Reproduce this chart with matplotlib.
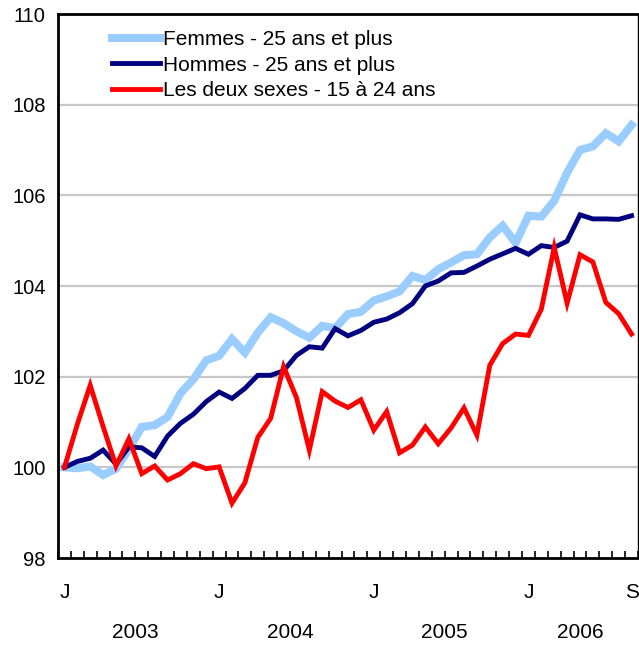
import numpy as np
import matplotlib
matplotlib.use("Agg")
import matplotlib.pyplot as plt
import matplotlib.transforms as mtransforms

plt.rcParams['font.family'] = ['Liberation Sans', 'DejaVu Sans']

# monthly index, Jan 2003 = 100, Jan 2003 .. Sep 2006
femmes = [100.0, 99.98, 100.02, 99.83, 99.97, 100.4, 100.89, 100.93, 101.11, 101.63,
          101.94, 102.36, 102.46, 102.83, 102.53, 102.97, 103.31, 103.18, 103.0, 102.86,
          103.12, 103.07, 103.38, 103.43, 103.68, 103.77, 103.88, 104.22, 104.13, 104.37,
          104.52, 104.68, 104.7, 105.07, 105.33, 104.95, 105.55, 105.53, 105.88, 106.5,
          107.0, 107.08, 107.37, 107.19, 107.55]
hommes = [100.0, 100.13, 100.2, 100.38, 100.07, 100.45, 100.43, 100.24, 100.69, 100.97,
          101.17, 101.45, 101.66, 101.52, 101.74, 102.03, 102.03, 102.13, 102.47, 102.66,
          102.63, 103.06, 102.9, 103.02, 103.2, 103.27, 103.41, 103.61, 104.0, 104.11,
          104.29, 104.3, 104.44, 104.59, 104.71, 104.83, 104.7, 104.89, 104.85, 104.99,
          105.57, 105.48, 105.48, 105.47, 105.55]
jeunes = [100.0, 100.95, 101.81, 100.9, 100.03, 100.63, 99.86, 100.03, 99.72, 99.86,
          100.08, 99.97, 100.01, 99.21, 99.66, 100.66, 101.08, 102.22, 101.54, 100.38,
          101.67, 101.46, 101.32, 101.49, 100.82, 101.23, 100.32, 100.49, 100.89, 100.52,
          100.87, 101.31, 100.71, 102.25, 102.73, 102.94, 102.91, 103.49, 104.85, 103.62,
          104.69, 104.53, 103.64, 103.39, 102.94]

labels = ["Femmes - 25 ans et plus", "Hommes - 25 ans et plus",
          "Les deux sexes - 15 à 24 ans"]
month_ticks = {0: "J", 12: "J", 24: "J", 36: "J", 44: "S"}
years = ["2003", "2004", "2005", "2006"]
year_pos = [5.5, 17.5, 29.5, 40]

fig = plt.figure(figsize=(6.39, 6.47), dpi=100)
ax = fig.add_axes([58 / 639, 89 / 647, 580 / 639, 544 / 647])

x = np.arange(len(femmes))
ax.plot(x, femmes, color="#99ccff", lw=5.8, label=labels[0], solid_joinstyle="miter")
ax.plot(x, hommes, color="#000080", lw=3.5, label=labels[1], solid_joinstyle="miter")
ax.plot(x, jeunes, color="#ff0000", lw=3.5, label=labels[2], solid_joinstyle="miter")

ax.set_xlim(-0.5, len(femmes) - 0.5)
ax.set_ylim(98, 110)
ax.set_yticks(range(98, 111, 2))
ax.tick_params(axis="y", length=0, labelsize=14.5, pad=9)
for v in range(100, 110, 2):
    ax.axhline(v, color="#c8c8c8", lw=1.6, zorder=0)

ax.set_xticks(list(month_ticks.keys()))
ax.set_xticklabels(list(month_ticks.values()))
ax.tick_params(axis="x", which="major", length=0, labelsize=15, pad=18)
ax.set_xticks(np.arange(-0.5, len(femmes), 1), minor=True)
ax.tick_params(axis="x", which="minor", direction="in", length=5, width=1.2)

trans = mtransforms.blended_transform_factory(ax.transData, fig.transFigure)
for lab, p in zip(years, year_pos):
    ax.text(p, 1 - 633 / 647, lab, transform=trans, ha="center", va="center", fontsize=15)

for side in ["left", "bottom", "top"]:
    ax.spines[side].set_linewidth(2)
ax.spines["right"].set_linewidth(1)

ax.legend(loc="upper left", bbox_to_anchor=(0.079, 0.985), frameon=False, fontsize=15,
          handlelength=2.3, handletextpad=0.12, labelspacing=0.3, borderaxespad=0)

fig.savefig("out.png", dpi=100)
